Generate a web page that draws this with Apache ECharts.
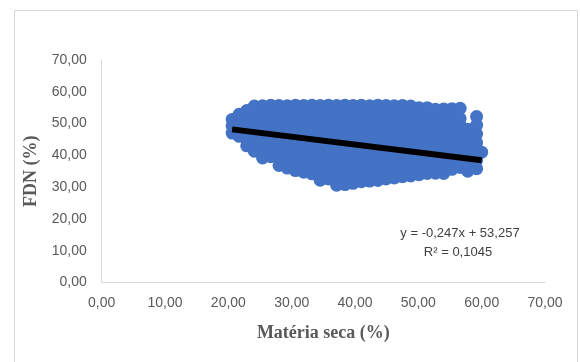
<!DOCTYPE html>
<html>
<head>
<meta charset="utf-8">
<script src="https://cdn.jsdelivr.net/npm/echarts@6/dist/echarts.min.js"></script>
<style>
  html, body { margin: 0; padding: 0; background: #ffffff; }
  #chart { width: 580px; height: 362px; }
</style>
</head>
<body>
<div id="chart"></div>
<script>
// Dry matter (%) of each sample group, and the NDF (%) readings taken at that dry matter
const dryMatterGroups = [
  20.6, 21.7, 22.9, 24.1, 25.4, 26.7, 28.0, 29.3, 30.6, 31.9, 33.2,
  34.5, 35.8, 37.1, 38.4, 39.7, 41.0, 42.3, 43.6, 44.9, 46.2, 47.5,
  48.8, 50.1, 51.4, 52.7, 54.0, 55.3, 56.6, 57.8, 59.2, 60.0
];
const ndfByGroup = [
  [47.0, 49.2, 51.3],
  [46.0, 48.4, 50.7, 52.9],
  [43.0, 45.3, 47.5, 49.7, 51.9, 54.1],
  [41.3, 43.7, 46.0, 48.4, 50.8, 53.1, 55.5],
  [39.2, 41.9, 44.7, 47.4, 50.1, 52.9, 55.6],
  [39.6, 42.3, 45.0, 47.7, 50.4, 53.1, 55.8],
  [36.8, 39.5, 42.2, 44.9, 47.6, 50.3, 53.0, 55.7],
  [36.0, 38.5, 40.9, 43.4, 45.8, 48.3, 50.7, 53.2, 55.6],
  [35.2, 37.8, 40.4, 42.9, 45.5, 48.1, 50.7, 53.2, 55.8],
  [34.7, 37.3, 40.0, 42.6, 45.2, 47.8, 50.5, 53.1, 55.7],
  [34.2, 36.9, 39.6, 42.3, 45.0, 47.7, 50.4, 53.1, 55.8],
  [32.2, 34.8, 37.4, 40.0, 42.6, 45.3, 47.9, 50.5, 53.1, 55.7],
  [32.6, 35.2, 37.8, 40.3, 42.9, 45.5, 48.1, 50.6, 53.2, 55.8],
  [30.6, 33.4, 36.2, 39.0, 41.8, 44.5, 47.3, 50.1, 52.9, 55.7],
  [30.8, 33.6, 36.4, 39.1, 41.9, 44.7, 47.5, 50.2, 53.0, 55.8],
  [31.2, 33.9, 36.6, 39.4, 42.1, 44.8, 47.5, 50.3, 53.0, 55.7],
  [31.7, 34.4, 37.1, 39.7, 42.4, 45.1, 47.8, 50.4, 53.1, 55.8],
  [31.9, 34.5, 37.2, 39.8, 42.4, 45.1, 47.7, 50.3, 53.0, 55.6],
  [32.1, 34.7, 37.4, 40.0, 42.6, 45.3, 47.9, 50.5, 53.2, 55.8],
  [32.6, 35.2, 37.7, 40.3, 42.9, 45.4, 48.0, 50.6, 53.1, 55.7],
  [32.9, 35.4, 37.9, 40.5, 43.0, 45.5, 48.0, 50.6, 53.1, 55.6],
  [33.3, 36.1, 38.9, 41.7, 44.5, 47.3, 50.1, 52.9, 55.7],
  [33.5, 36.3, 39.0, 41.8, 44.5, 47.3, 50.0, 52.8, 55.5],
  [33.9, 36.5, 39.2, 41.8, 44.5, 47.1, 49.7, 52.4, 55.0],
  [34.3, 36.9, 39.5, 42.1, 44.7, 47.2, 49.8, 52.4, 55.0],
  [34.4, 36.9, 39.4, 41.9, 44.5, 47.0, 49.5, 52.0, 54.5],
  [34.3, 36.8, 39.4, 41.9, 44.5, 47.0, 49.5, 52.1, 54.6],
  [35.6, 38.3, 41.1, 43.8, 46.5, 49.2, 52.0, 54.7],
  [36.2, 38.9, 41.5, 44.2, 46.8, 49.5, 51.6, 54.8],
  [35.0, 37.6, 40.3, 42.9, 45.6, 48.2],
  [35.8, 38.5, 41.3, 44.0, 46.7, 49.5, 52.2],
  [41.0]
];

// Linear trend fitted to the samples
const trendSlope = -0.247;
const trendIntercept = 53.257;
const rSquared = 0.1045;

// Axis ticks
const xTicks = [0, 10, 20, 30, 40, 50, 60, 70];
const yTicks = [0, 10, 20, 30, 40, 50, 60, 70];

const samples = [];
dryMatterGroups.forEach((ms, i) => {
  ndfByGroup[i].forEach(v => samples.push([ms, v]));
});

const msMin = Math.min(...dryMatterGroups);
const msMax = Math.max(...dryMatterGroups);
const trendLine = [msMin, msMax].map(x => [x, trendSlope * x + trendIntercept]);

const comma = (v, d) => v.toFixed(d).replace('.', ',');
const eqText = 'y = ' + comma(trendSlope, 3) + 'x + ' + comma(trendIntercept, 3);
const r2Text = 'R² = ' + comma(rSquared, 4);

const tickFont = { color: '#595959', fontSize: 14, fontFamily: '"Liberation Sans", Arial, sans-serif' };
const titleFont = { color: '#595959', fontSize: 18, fontWeight: 'bold', fontFamily: '"Liberation Serif", "Times New Roman", serif' };

const chart = echarts.init(document.getElementById('chart'), null, { renderer: 'canvas' });
chart.setOption({
  animation: false,
  backgroundColor: '#ffffff',
  grid: { left: 101.7, right: 35, top: 60, bottom: 79.5, containLabel: false },
  xAxis: {
    type: 'value',
    min: xTicks[0],
    max: xTicks[xTicks.length - 1],
    interval: xTicks[1] - xTicks[0],
    name: 'Matéria seca (%)',
    nameLocation: 'middle',
    nameGap: 42,
    nameTextStyle: titleFont,
    axisLine: { show: true, onZero: false, lineStyle: { color: '#d9d9d9', width: 1 } },
    axisTick: { show: false },
    splitLine: { show: false },
    axisLabel: Object.assign({ margin: 14, formatter: v => comma(v, 2) }, tickFont)
  },
  yAxis: {
    type: 'value',
    min: yTicks[0],
    max: yTicks[yTicks.length - 1],
    interval: yTicks[1] - yTicks[0],
    name: 'FDN (%)',
    nameLocation: 'middle',
    nameGap: 50,
    nameRotate: 90,
    nameTextStyle: titleFont,
    axisLine: { show: true, onZero: false, lineStyle: { color: '#d9d9d9', width: 1 } },
    axisTick: { show: false },
    splitLine: { show: false },
    axisLabel: Object.assign({ margin: 15, formatter: v => comma(v, 2) }, tickFont)
  },
  graphic: [
    {
      type: 'rect',
      silent: true,
      shape: { x: 14.5, y: 10.5, width: 563, height: 400 },
      style: { fill: 'none', stroke: '#d9d9d9', lineWidth: 1 }
    },
    {
      type: 'text',
      x: 460, y: 233,
      style: { text: eqText, align: 'center', verticalAlign: 'middle', fill: '#404040', fontSize: 13, fontFamily: '"Liberation Sans", Arial, sans-serif' }
    },
    {
      type: 'text',
      x: 458, y: 252.5,
      style: { text: r2Text, align: 'center', verticalAlign: 'middle', fill: '#404040', fontSize: 13, fontFamily: '"Liberation Sans", Arial, sans-serif' }
    }
  ],
  series: [
    {
      type: 'scatter',
      data: samples,
      symbol: 'circle',
      symbolSize: 13,
      itemStyle: { color: '#4472C4', opacity: 1 },
      emphasis: { disabled: true },
      z: 2
    },
    {
      type: 'line',
      data: trendLine,
      symbol: 'none',
      lineStyle: { color: '#000000', width: 6, cap: 'butt' },
      emphasis: { disabled: true },
      z: 3
    }
  ]
});
</script>
</body>
</html>
